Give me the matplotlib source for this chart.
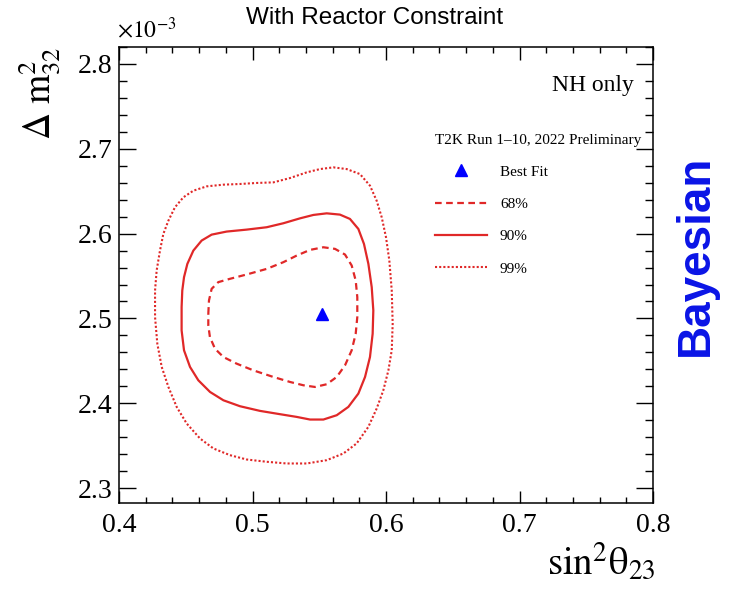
import matplotlib
matplotlib.use("Agg")
import matplotlib.pyplot as plt
from matplotlib.lines import Line2D
from matplotlib.patches import Polygon
from matplotlib.ticker import MultipleLocator

# contour points (sin^2 theta23, dm2_32 in 1e-3 eV^2)
c68_x = [0.4669, 0.4674, 0.4694, 0.4744, 0.4831, 0.4956, 0.5106, 0.5231, 0.5331,
         0.5431, 0.5531, 0.5618, 0.5693, 0.5743, 0.5773, 0.5785, 0.5785, 0.5773,
         0.5743, 0.5693, 0.5631, 0.5556, 0.5468, 0.5381, 0.5281, 0.5156, 0.5006,
         0.4881, 0.4782, 0.4719, 0.4681, 0.4669]
c68_y = [2.5055, 2.5212, 2.5349, 2.5428, 2.5467, 2.5518, 2.5584, 2.5663, 2.5741,
         2.5808, 2.5839, 2.5820, 2.5753, 2.5624, 2.5447, 2.5251, 2.5016, 2.4820,
         2.4624, 2.4447, 2.4310, 2.4224, 2.4192, 2.4212, 2.4251, 2.4310, 2.4388,
         2.4467, 2.4545, 2.4643, 2.4780, 2.4918]

c90_x = [0.4469, 0.4474, 0.4487, 0.4512, 0.4557, 0.4619, 0.4694, 0.4806, 0.4956,
         0.5106, 0.5231, 0.5356, 0.5456, 0.5556, 0.5655, 0.5730, 0.5793, 0.5835,
         0.5868, 0.5893, 0.5905, 0.5900, 0.5880, 0.5843, 0.5793, 0.5718, 0.5631,
         0.5531, 0.5431, 0.5331, 0.5206, 0.5056, 0.4906, 0.4782, 0.4682, 0.4594,
         0.4532, 0.4487, 0.4469]
c90_y = [2.5133, 2.5329, 2.5486, 2.5643, 2.5800, 2.5918, 2.5988, 2.6024, 2.6047,
         2.6075, 2.6122, 2.6180, 2.6220, 2.6239, 2.6224, 2.6173, 2.6055, 2.5878,
         2.5643, 2.5369, 2.5094, 2.4820, 2.4545, 2.4310, 2.4114, 2.3957, 2.3859,
         2.3808, 2.3808, 2.3839, 2.3871, 2.3910, 2.3965, 2.4035, 2.4133, 2.4271,
         2.4428, 2.4624, 2.4859]

c99_x = [0.4270, 0.4282, 0.4307, 0.4332, 0.4370, 0.4419, 0.4482, 0.4557, 0.4657,
         0.4782, 0.4906, 0.5031, 0.5156, 0.5281, 0.5406, 0.5506, 0.5606, 0.5705,
         0.5805, 0.5880, 0.5930, 0.5968, 0.6000, 0.6025, 0.6043, 0.6050, 0.6043,
         0.6018, 0.5980, 0.5930, 0.5868, 0.5780, 0.5681, 0.5556, 0.5406, 0.5256,
         0.5106, 0.4956, 0.4831, 0.4707, 0.4607, 0.4507, 0.4432, 0.4370, 0.4320,
         0.4287, 0.4270]
c99_y = [2.5329, 2.5565, 2.5800, 2.5996, 2.6153, 2.6310, 2.6428, 2.6506, 2.6557,
         2.6577, 2.6585, 2.6597, 2.6604, 2.6655, 2.6722, 2.6761, 2.6781, 2.6761,
         2.6702, 2.6565, 2.6388, 2.6192, 2.5957, 2.5682, 2.5329, 2.4937, 2.4624,
         2.4388, 2.4153, 2.3937, 2.3722, 2.3526, 2.3408, 2.3329, 2.3290, 2.3290,
         2.3310, 2.3337, 2.3388, 2.3467, 2.3584, 2.3761, 2.3957, 2.4192, 2.4428,
         2.4702, 2.5016]

best_fit = (0.552, 2.505)

red = "#e02828"
serif = "Liberation Serif"

plt.rcParams["mathtext.fontset"] = "stix"
plt.rcParams["font.family"] = serif

fig = plt.figure(figsize=(7.3, 5.92), dpi=100)
ax = fig.add_axes([119 / 730, 89 / 592, 534 / 730, 456 / 592])


def contour(xs, ys, **kw):
    # closed polygon outline, no fill, so the ends join cleanly
    ax.add_patch(Polygon(list(zip(xs, ys)), closed=True, fill=False,
                         edgecolor=red, joinstyle="round", **kw))


contour(c99_x, c99_y, lw=1.5, linestyle=(0, (1, 1)))
contour(c90_x, c90_y, lw=1.6)
contour(c68_x, c68_y, lw=1.6, linestyle=(0, (3, 2)))
ax.plot([best_fit[0]], [best_fit[1]], marker="^", color="blue", ms=8, ls="none")

ax.set_xlim(0.4, 0.8)
ax.set_ylim(2.2824, 2.82)
ax.xaxis.set_major_locator(MultipleLocator(0.1))
ax.xaxis.set_minor_locator(MultipleLocator(0.02))
ax.yaxis.set_major_locator(MultipleLocator(0.1))
ax.yaxis.set_minor_locator(MultipleLocator(0.02))
ax.tick_params(which="both", direction="in", top=True, right=True, width=1.0,
               labelsize=20)
ax.tick_params(axis="x", which="major", length=9, pad=7)
ax.tick_params(axis="x", which="minor", length=4.5)
ax.tick_params(axis="y", which="major", length=12, pad=5)
ax.tick_params(axis="y", which="minor", length=6)
ax.xaxis.set_major_formatter(plt.FuncFormatter(lambda v, p: f"{v:.1f}"))
ax.yaxis.set_major_formatter(plt.FuncFormatter(lambda v, p: f"{v:.1f}"))
for s in ax.spines.values():
    s.set_linewidth(1.1)

fig.text(375 / 730, 1 - 18 / 592, "With Reactor Constraint", family="Liberation Sans",
         fontsize=17.5, ha="center", va="center")
fig.text(117 / 730, 1 - 38 / 592, r"$\times10^{-3}$", fontsize=17, ha="left",
         va="baseline")
fig.text(40 / 730, 1 - 47 / 592, r"$\Delta\ \mathrm{m}^{2}_{32}$", fontsize=27,
         rotation=90, ha="center", va="top")
fig.text(656 / 730, 1 - 575 / 592, r"$\mathrm{sin}^{2}\mathrm{θ}_{23}$", fontsize=28,
         ha="right", va="baseline")
fig.text(634 / 730, 1 - 85 / 592, "NH only", fontsize=17, ha="right", va="center")
fig.text(696 / 730, 1 - 255 / 592, "Bayesian", family="Liberation Sans",
         fontweight="bold", fontsize=33, color="#0a14e6", rotation=90,
         ha="center", va="center")

handles = [
    Line2D([], [], marker="^", color="blue", ms=8, ls="none"),
    Line2D([], [], color=red, lw=1.6, linestyle=(0, (3, 2))),
    Line2D([], [], color=red, lw=1.6),
    Line2D([], [], color=red, lw=1.5, linestyle=(0, (1, 1))),
]
labels = ["Best Fit", "68%", "90%", "99%"]
leg = ax.legend(handles, labels, title="T2K Run 1\u201310, 2022 Preliminary",
                loc="upper left", bbox_to_anchor=(435 / 730, 1 - 134 / 592),
                bbox_transform=fig.transFigure, frameon=False, fontsize=11,
                title_fontsize=11, handlelength=3.4, handletextpad=0.85,
                labelspacing=1.22, borderpad=0, borderaxespad=0,
                alignment="left")
leg._legend_box.sep = 13

fig.savefig("out.png", dpi=100)
